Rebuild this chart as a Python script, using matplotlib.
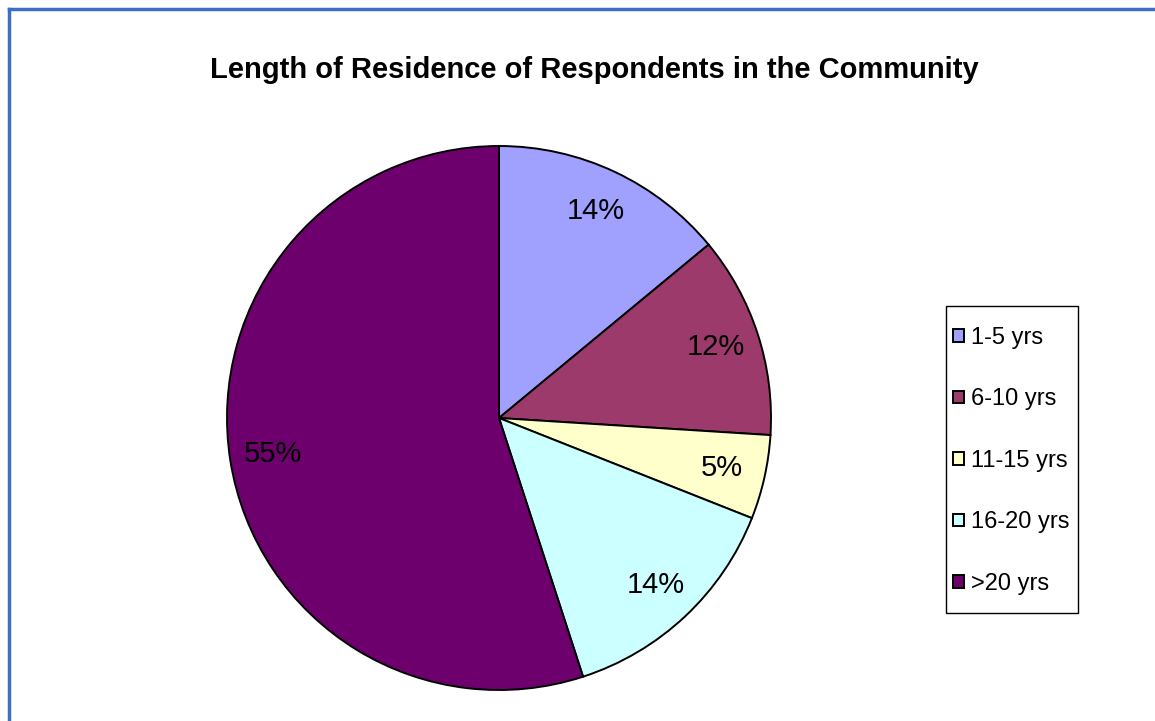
import matplotlib
matplotlib.use("Agg")
import matplotlib.pyplot as plt
from matplotlib.patches import Patch, Rectangle
from matplotlib.lines import Line2D

plt.rcParams['font.family'] = ['Liberation Sans', 'DejaVu Sans']

# Residence length categories and their shares (%)
categories = ["1-5 yrs", "6-10 yrs", "11-15 yrs", "16-20 yrs", ">20 yrs"]
shares = [14, 12, 5, 14, 55]
colors = ["#A0A0FF", "#9C3A6C", "#FFFFCC", "#CCFFFF", "#6E006E"]
title = "Length of Residence of Respondents in the Community"

W, H = 1155, 721
fig = plt.figure(figsize=(W / 100, H / 100), dpi=100)
fig.patch.set_facecolor("white")

# Blue frame along top and left edges
fig.add_artist(Line2D([9 / W, 9 / W], [0, 1 - 9 / H], transform=fig.transFigure,
                      color="#3A6FC4", lw=2.5))
fig.add_artist(Line2D([9 / W, 1], [1 - 9 / H, 1 - 9 / H], transform=fig.transFigure,
                      color="#3A6FC4", lw=2.5))

cx, cy, r = 499, 418, 272
ax = fig.add_axes([(cx - r) / W, (H - cy - r) / H, 2 * r / W, 2 * r / H])
wedges, texts, autotexts = ax.pie(
    shares, colors=colors, startangle=90, counterclock=False,
    autopct="%d%%", pctdistance=0.84, radius=1.0,
    wedgeprops=dict(edgecolor="black", linewidth=1.4),
    textprops=dict(fontsize=21, color="black"),
)
ax.set_xlim(-1, 1)
ax.set_ylim(-1, 1)
ax.set_aspect("equal")
ax.axis("off")

fig.text(594 / W, 1 - 70 / H, title, ha="center", va="center",
         fontsize=21, fontweight="bold")

# Legend frame
fig.add_artist(Rectangle((946 / W, 1 - 613 / H), 132 / W, 307 / H,
                         transform=fig.transFigure, facecolor="white",
                         edgecolor="black", linewidth=1.0, zorder=1))

handles = [Patch(facecolor=c, edgecolor="black", linewidth=1.4) for c in colors]
leg = fig.legend(handles, categories, loc="upper left",
                 bbox_to_anchor=(953 / W, 1 - 327 / H),
                 bbox_transform=fig.transFigure,
                 fontsize=17, frameon=False,
                 handlelength=0.45, handleheight=0.45,
                 handletextpad=0.3, labelspacing=1.67, borderpad=0,
                 borderaxespad=0)
leg.set_zorder(2)

fig.savefig("out.png", dpi=100, facecolor="white")
